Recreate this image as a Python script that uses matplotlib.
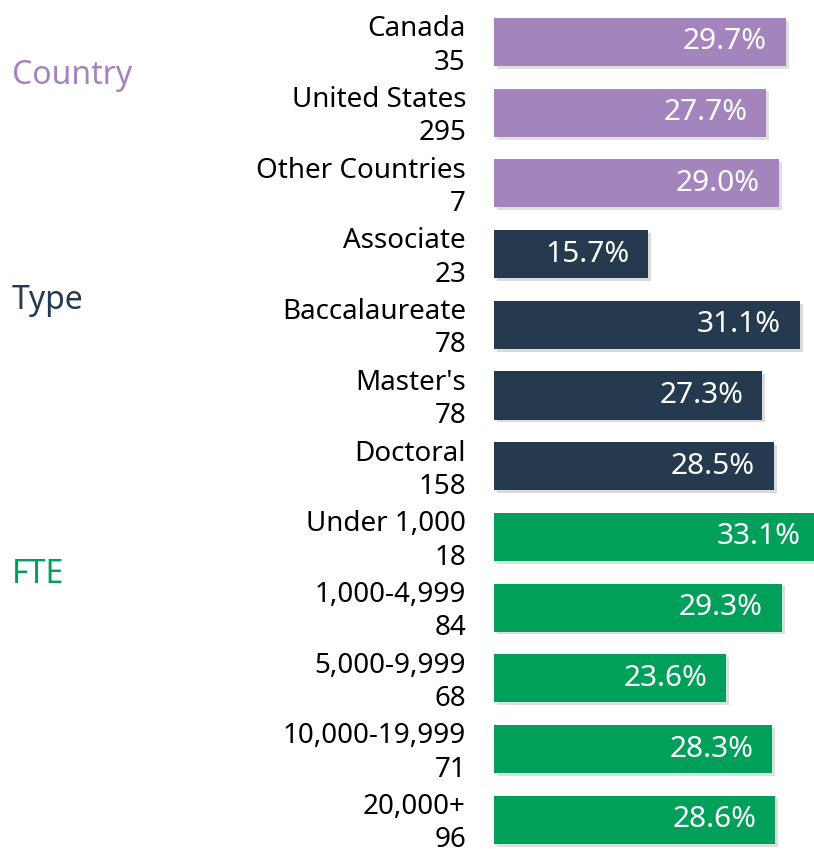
import matplotlib
matplotlib.use("Agg")
import matplotlib.pyplot as plt
import matplotlib.patheffects as pe

plt.rcParams['font.family'] = ['Noto Sans', 'DejaVu Sans']

# data
categories = ["Canada", "United States", "Other Countries",
              "Associate", "Baccalaureate", "Master's", "Doctoral",
              "Under 1,000", "1,000-4,999", "5,000-9,999", "10,000-19,999", "20,000+"]
counts = [35, 295, 7, 23, 78, 78, 158, 18, 84, 68, 71, 96]
percents = [29.7, 27.7, 29.0, 15.7, 31.1, 27.3, 28.5, 33.1, 29.3, 23.6, 28.3, 28.6]
groups = ["Country"] * 3 + ["Type"] * 4 + ["FTE"] * 5

group_names = ["Country", "Type", "FTE"]
group_colors = {"Country": "#A484BD", "Type": "#253A4F", "FTE": "#00A05A"}
group_label_rows = {"Country": 0.42, "Type": 3.6, "FTE": 7.48}

fig = plt.figure(figsize=(8.14, 8.49), dpi=100)
ax = fig.add_axes([494 / 814, 0, 1 - 494 / 814, 1])

rows = list(range(len(categories)))
colors = [group_colors[g] for g in groups]
bars = ax.barh(rows, percents, height=0.68, color=colors)
for b in bars:
    b.set_path_effects([pe.SimplePatchShadow(offset=(2, -2), alpha=0.15), pe.Normal()])

ax.set_xlim(0, 32.55)
ax.set_ylim(11.414, -0.594)
ax.axis('off')

# value labels inside bars, category + count to the left
for r, p, cat, n in zip(rows, percents, categories, counts):
    ax.annotate(f"{p:.1f}%", xy=(p, r), xytext=(-19, 0), textcoords='offset pixels',
                ha='right', va='center', color='white', fontsize=21.5,
                annotation_clip=False)
    ax.annotate(f"{cat}\n{n}", xy=(0, r), xytext=(-28, -4), textcoords='offset pixels',
                ha='right', va='center', color='black', fontsize=20, linespacing=1.25,
                annotation_clip=False)

for g in group_names:
    ax.annotate(g, xy=(0, group_label_rows[g]), xycoords=('figure pixels', 'data'),
                xytext=(12, -4), textcoords='offset pixels',
                ha='left', va='center', color=group_colors[g], fontsize=23,
                annotation_clip=False)

fig.savefig("out.png", dpi=100)
